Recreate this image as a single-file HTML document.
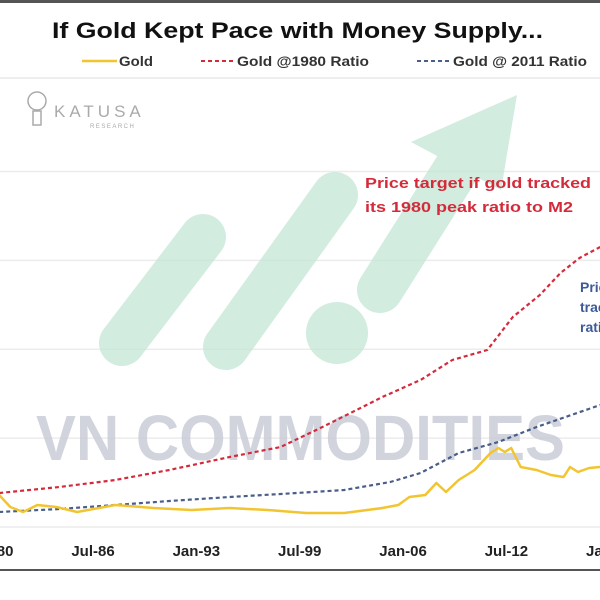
<!DOCTYPE html>
<html><head><meta charset="utf-8"><style>
html,body{margin:0;padding:0;background:#fff;}
svg{display:block;font-family:"Liberation Sans",sans-serif;}
</style></head><body>
<svg id="chart" width="600" height="600" viewBox="0 0 600 600" xmlns="http://www.w3.org/2000/svg">
<rect x="0" y="0" width="600" height="600" fill="#fff"/>
<rect x="0" y="0" width="600" height="3" fill="#555"/>
<text x="52" y="38" font-size="22" font-weight="bold" fill="#111" textLength="491" lengthAdjust="spacingAndGlyphs">If Gold Kept Pace with Money Supply...</text>
<g font-size="13.5" font-weight="bold" fill="#333">
 <line x1="82" y1="61" x2="117" y2="61" stroke="#f2c530" stroke-width="2.5"/>
 <text x="119" y="66" textLength="34" lengthAdjust="spacingAndGlyphs">Gold</text>
 <line x1="201" y1="61" x2="235" y2="61" stroke="#d42b3b" stroke-width="2" stroke-dasharray="4 3"/>
 <text x="237" y="66" textLength="132" lengthAdjust="spacingAndGlyphs">Gold @1980 Ratio</text>
 <line x1="417" y1="61" x2="452" y2="61" stroke="#4a5e8a" stroke-width="2" stroke-dasharray="4 3"/>
 <text x="453" y="66" textLength="134" lengthAdjust="spacingAndGlyphs">Gold @ 2011 Ratio</text>
</g>
<line x1="0" y1="78" x2="600" y2="78" stroke="#eee" stroke-width="2"/>
<g id="grid"></g>
<g opacity="0.75">
 <line x1="122" y1="343" x2="203" y2="237" stroke="#c3e6d5" stroke-width="46" stroke-linecap="round"/>
 <line x1="226" y1="347" x2="335" y2="195" stroke="#c3e6d5" stroke-width="46" stroke-linecap="round"/>
 <circle cx="337" cy="333" r="31" fill="#c3e6d5"/>
 <line x1="380" y1="290" x2="462" y2="160" stroke="#c3e6d5" stroke-width="46" stroke-linecap="round"/>
 <polygon points="411,142 517,95 501,190" fill="#c3e6d5"/>
</g>
<g fill="#aaa">
 <circle cx="37" cy="101" r="9" fill="none" stroke="#aaa" stroke-width="1.5"/>
 <rect x="33" y="111" width="8" height="14" fill="none" stroke="#aaa" stroke-width="1.5"/>
 <text x="54" y="117" font-size="17" letter-spacing="4">KATUSA</text>
 <text x="90" y="128" font-size="6" letter-spacing="1.5">RESEARCH</text>
</g>
<text x="36" y="460" font-size="64" font-weight="bold" fill="#c6cad5" opacity="0.8" textLength="529" lengthAdjust="spacingAndGlyphs">VN COMMODITIES</text>
<g id="series"></g>
<g font-size="14.5" font-weight="bold" fill="#d42b3b">
 <text x="365" y="188" textLength="226" lengthAdjust="spacingAndGlyphs">Price target if gold tracked</text>
 <text x="365" y="212" textLength="208" lengthAdjust="spacingAndGlyphs">its 1980 peak ratio to M2</text>
</g>
<g font-size="14" font-weight="bold" fill="#3d5a9a">
 <text x="580" y="292">Price</text>
 <text x="580" y="312">tracked</text>
 <text x="580" y="332">ratio</text>
</g>
<g id="xaxis"></g>
<rect x="0" y="569" width="600" height="2" fill="#555"/>
</svg>
<script>
const tickLabels = ["Jan-80","Jul-86","Jan-93","Jul-99","Jan-06","Jul-12","Jan-19"];
const tickYears = [1980, 1986.5, 1993, 1999.5, 2006, 2012.5, 2019];
const gridValues = [0, 2000, 4000, 6000, 8000];
const goldYears = [1980.6,1981.3,1982.1,1983.0,1984.2,1985.5,1987.9,1990.3,1992.7,1995.1,1997.5,1999.9,2002.3,2004.7,2005.7,2006.4,2007.4,2008.1,2008.7,2009.5,2010.5,2011.5,2012.0,2012.4,2012.8,2013.4,2014.4,2015.3,2016.1,2016.5,2017.0,2017.7,2018.4];
const goldValues = [720,450,338,495,450,338,495,428,383,428,383,315,315,428,495,675,720,990,788,1058,1283,1665,1778,1688,1778,1350,1283,1170,1125,1350,1238,1328,1350];
const r1980Years = [1980.6,1984.4,1987.9,1991.3,1995.1,1998.3,2000.8,2003.7,2004.7,2007.1,2009.1,2011.3,2012.9,2014.6,2015.9,2017.1,2018.4];
const r1980Values = [765,900,1058,1283,1575,1800,2228,2745,2925,3308,3758,3983,4725,5220,5715,6053,6300];
const r2011Years = [1980.6,1984.4,1987.9,1991.3,1995.1,1998.3,2002.3,2005.2,2007.1,2009.5,2012.0,2014.4,2018.4];
const r2011Values = [338,405,495,585,675,743,833,1013,1215,1665,1913,2250,2745];

const NS = "http://www.w3.org/2000/svg";
function xScale(yr){ return 93 + (yr - 1986.5) * 15.9; }
function yScale(v){ return 527 - v / 22.5; }

const grid = document.getElementById('grid');
gridValues.forEach(v => {
  const l = document.createElementNS(NS,'line');
  
  
  l.setAttribute('x1',0); l.setAttribute('x2',600);
  l.setAttribute('y1',yScale(v)); l.setAttribute('y2',yScale(v));
  l.setAttribute('stroke','#ececec'); l.setAttribute('stroke-width','1.5');
  grid.appendChild(l);
});

const series = document.getElementById('series');
function addLine(years, vals, color, dash, width, name){
  const p = document.createElementNS(NS,'polyline');
  
  
  p.setAttribute('points', years.map((y,i)=>xScale(y).toFixed(1)+','+yScale(vals[i]).toFixed(1)).join(' '));
  p.setAttribute('fill','none'); p.setAttribute('stroke',color);
  p.setAttribute('stroke-width',width); p.setAttribute('stroke-linejoin','round');
  if(dash) p.setAttribute('stroke-dasharray',dash);
  series.appendChild(p);
}
addLine(r2011Years, r2011Values, '#4a5e8a', '4 3', 2.2, 'series-gold-2011-ratio');
addLine(r1980Years, r1980Values, '#d42b3b', '4 3', 2.2, 'series-gold-1980-ratio');
addLine(goldYears, goldValues, '#f2c530', null, 2.5, 'series-gold');

const xa = document.getElementById('xaxis');
tickLabels.forEach((t,i) => {
  const tx = document.createElementNS(NS,'text');
  
  
  tx.setAttribute('x', xScale(tickYears[i]));
  tx.setAttribute('y', 556);
  tx.setAttribute('text-anchor','middle');
  tx.setAttribute('font-size','15');
  tx.setAttribute('font-weight','bold');
  tx.setAttribute('fill','#222');
  tx.textContent = t;
  xa.appendChild(tx);
});
</script>
</body></html>
